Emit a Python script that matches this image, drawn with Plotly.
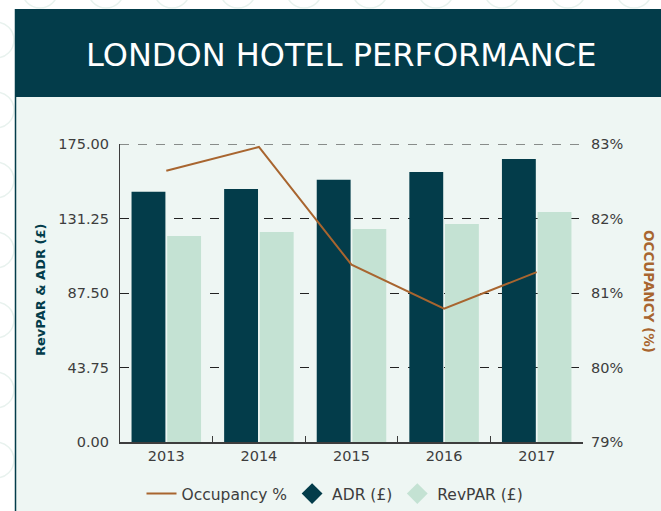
import plotly.graph_objects as go

years = ["2013", "2014", "2015", "2016", "2017"]
adr = [147.0, 148.6, 154.0, 158.5, 166.2]
revpar = [121.0, 123.3, 125.1, 128.0, 135.0]
occupancy = [82.64, 82.96, 81.38, 80.79, 81.28]

left_ticks = [0, 43.75, 87.5, 131.25, 175]
left_tick_text = ["0.00", "43.75", "87.50", "131.25", "175.00"]
right_ticks = [79, 80, 81, 82, 83]
right_tick_text = ["79%", "80%", "81%", "82%", "83%"]

W, H = 661, 511
L, R, T, B = 120, 583, 144, 442  # plot area in pixels

DARK = "#033c4a"
MINT = "#c4e2d3"
BROWN = "#a8652f"
PANEL = "#eef6f3"
GREY = "#3d3d3d"
FONT = "DejaVu Sans"


def px(x):
    return (x - L) / (R - L)


def py(y):
    return (B - y) / (B - T)


fig = go.Figure()

fig.add_trace(go.Bar(x=years, y=adr, name="ADR (£)", marker_color=DARK,
                     marker_line_width=0, showlegend=False))
fig.add_trace(go.Bar(x=years, y=revpar, name="RevPAR (£)", marker_color=MINT,
                     marker_line_width=0, showlegend=False))
fig.add_trace(go.Scatter(x=years, y=occupancy, name="Occupancy %", yaxis="y2",
                         mode="lines", line=dict(color=BROWN, width=2)))
# diamond legend keys for the bar series
fig.add_trace(go.Scatter(x=[None], y=[None], name="ADR (£)", mode="markers",
                         marker=dict(symbol="diamond", size=17, color=DARK)))
fig.add_trace(go.Scatter(x=[None], y=[None], name="RevPAR (£)", mode="markers",
                         marker=dict(symbol="diamond", size=17, color=MINT)))

shapes = []
# faint decorative rings around the card
for cx in range(40, 700, 66):
    shapes.append(dict(type="circle", xref="paper", yref="paper",
                       x0=px(cx - 18), x1=px(cx + 18), y0=py(8), y1=py(-28),
                       line=dict(color="#e8f2ee", width=1.5), layer="below"))
for cy in range(40, 540, 70):
    shapes.append(dict(type="circle", xref="paper", yref="paper",
                       x0=px(-22), x1=px(14), y0=py(cy + 18), y1=py(cy - 18),
                       line=dict(color="#e8f2ee", width=1.5), layer="below"))
# card panel
shapes.append(dict(type="rect", xref="paper", yref="paper",
                   x0=px(15), x1=px(W + 5), y0=py(H + 5), y1=py(97),
                   fillcolor=PANEL, line_width=0, layer="below"))
# header band
shapes.append(dict(type="rect", xref="paper", yref="paper",
                   x0=px(15), x1=px(W + 5), y0=py(97), y1=py(9),
                   fillcolor=DARK, line_width=0, layer="below"))
# card left edge
shapes.append(dict(type="line", xref="paper", yref="paper",
                   x0=px(15.5), x1=px(15.5), y0=py(H + 5), y1=py(9),
                   line=dict(color=DARK, width=1.5), layer="below"))
# top gridline at the axis maximum
shapes.append(dict(type="line", xref="paper", yref="y",
                   x0=0, x1=1, y0=175, y1=175,
                   line=dict(color="#222222", width=1, dash="dash"),
                   layer="below"))

annotations = [
    dict(text="LONDON HOTEL PERFORMANCE", xref="paper", yref="paper",
         x=px(341), y=py(55), xanchor="center", yanchor="middle",
         showarrow=False,
         font=dict(family=FONT, size=32, color="white")),
    dict(text="<b>RevPAR & ADR (£)</b>", xref="paper", yref="paper",
         x=px(40), y=py(290), xanchor="center", yanchor="middle",
         showarrow=False, textangle=-90,
         font=dict(family=FONT, size=13, color=DARK)),
    dict(text="<b>OCCUPANCY (%)</b>", xref="paper", yref="paper",
         x=px(649), y=py(291), xanchor="center", yanchor="middle",
         showarrow=False, textangle=90,
         font=dict(family=FONT, size=13.5, color=BROWN)),
]

fig.update_layout(
    width=W, height=H,
    margin=dict(l=L, r=W - R, t=T, b=H - B, autoexpand=False),
    paper_bgcolor="white",
    plot_bgcolor="rgba(0,0,0,0)",
    barmode="group",
    bargap=0.23,
    bargroupgap=0.05,
    font=dict(family=FONT, size=14, color=GREY),
    shapes=shapes,
    annotations=annotations,
    legend=dict(orientation="h", xref="container", yref="container",
                x=335 / W, xanchor="center",
                y=1 - 494 / H, yanchor="middle", bgcolor="rgba(0,0,0,0)",
                font=dict(family=FONT, size=15.5, color=GREY),
                itemwidth=30, tracegroupgap=0),
    xaxis=dict(
        type="category", showline=True, linecolor=GREY, linewidth=1.5,
        ticks="inside", ticklen=6, tickcolor=GREY, tickson="boundaries",
        showgrid=False, automargin=False,
        tickfont=dict(family=FONT, size=14.5, color=GREY),
    ),
    yaxis=dict(
        range=[0, 175], tickvals=left_ticks, ticktext=left_tick_text,
        showline=True, linecolor=GREY, linewidth=1.2,
        showgrid=True, gridcolor="#222222", gridwidth=1, griddash="dash",
        zeroline=False, ticks="", ticklabelstandoff=7, automargin=False,
        tickfont=dict(family=FONT, size=14.5, color=GREY),
    ),
    yaxis2=dict(
        range=[79, 83], tickvals=right_ticks, ticktext=right_tick_text,
        overlaying="y", side="right", showgrid=False, zeroline=False,
        showline=False, ticks="", ticklabelstandoff=7, automargin=False,
        tickfont=dict(family=FONT, size=14.5, color=GREY),
    ),
)

fig.write_html("out.html")
